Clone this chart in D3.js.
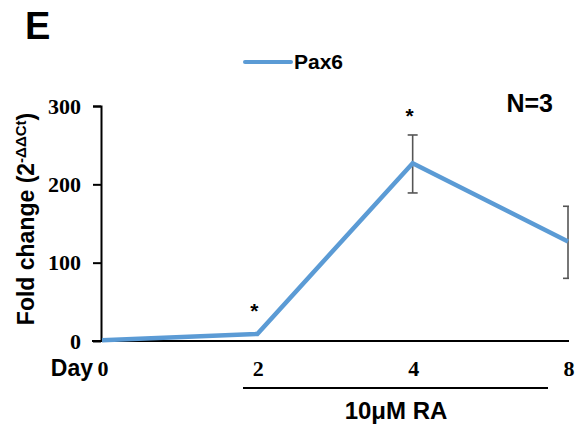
<!DOCTYPE html>
<html>
<head>
<meta charset="utf-8">
<script src="https://cdn.jsdelivr.net/npm/d3@7"></script>
<style>
  body { margin: 0; background: #fff; }
  svg { display: block; }
</style>
</head>
<body>
<svg width="582" height="427"></svg>
<script>
// data
const days = ["0", "2", "4", "8"];
const pax6 = [1, 9, 227, 127];
const errLow = [null, null, 189, 80];
const errHigh = [null, null, 263, 172];
const starred = [false, true, true, false];
const yTicks = [0, 100, 200, 300];

const svg = d3.select("svg");
const blue = "#5b9bd5";
const sans = "'Liberation Sans', Arial, sans-serif";
const serif = "'Liberation Serif', 'Times New Roman', serif";

const x = d3.scalePoint().domain(days).range([102, 568]);
const y = d3.scaleLinear().domain([0, 300]).range([341, 106]);

// panel letter
svg.append("text").attr("x", 25).attr("y", 39)
  .style("font", `bold 38px ${sans}`).text("E");

// legend
svg.append("line").attr("x1", 245).attr("x2", 291).attr("y1", 62).attr("y2", 62)
  .attr("stroke", blue).attr("stroke-width", 4).attr("stroke-linecap", "round");
svg.append("text").attr("x", 294).attr("y", 69)
  .style("font", `bold 21px ${sans}`).text("Pax6");

// y axis
const yAxis = d3.axisLeft(y).tickValues(yTicks).tickSize(8).tickPadding(12);
const gy = svg.append("g").attr("transform", "translate(101,0)").call(yAxis);
gy.select(".domain").attr("d", "M-8,106.5H0.5V341").attr("stroke", "#000").attr("stroke-width", 2);
gy.selectAll(".tick line").attr("stroke", "#000").attr("stroke-width", 2);
gy.selectAll(".tick text").style("font", `bold 22px ${serif}`).attr("fill", "#000");

// x axis line
svg.append("line").attr("x1", 92).attr("x2", 569).attr("y1", y(0)).attr("y2", y(0))
  .attr("stroke", "#000").attr("stroke-width", 2);
svg.selectAll(".xlab").data(days).join("text").attr("class", "xlab")
  .attr("x", d => x(d) + 1).attr("y", 376).attr("text-anchor", "middle")
  .style("font", `bold 22px ${serif}`).text(d => d);
svg.append("text").attr("x", 93).attr("y", 376).attr("text-anchor", "end")
  .style("font", `bold 23px ${sans}`).text("Day");

// treatment bar
svg.append("line").attr("x1", 243).attr("x2", 548).attr("y1", 388).attr("y2", 388)
  .attr("stroke", "#000").attr("stroke-width", 2);
svg.append("text").attr("x", 396).attr("y", 419).attr("text-anchor", "middle")
  .style("font", `bold 24px ${sans}`).text("10\u03bcM RA");

// y label
const yl = svg.append("text").attr("transform", "translate(34,219) rotate(-90)")
  .attr("text-anchor", "middle")
  .style("font", `bold 23px ${sans}`);
yl.append("tspan").text("Fold change (2");
yl.append("tspan").attr("dy", -8).style("font-size", "15px").text("-\u0394\u0394Ct");
yl.append("tspan").attr("dy", 8).text(")");

// error bars (clipped at plot edge)
svg.append("clipPath").attr("id", "clip").append("rect")
  .attr("x", 100).attr("y", 90).attr("width", 469).attr("height", 260);
const eb = svg.append("g").attr("clip-path", "url(#clip)")
  .attr("stroke", "#555").attr("stroke-width", 1.6).attr("fill", "none");
days.forEach((d, i) => {
  if (errLow[i] == null) return;
  const cx = x(d);
  eb.append("line").attr("x1", cx).attr("x2", cx).attr("y1", y(errLow[i])).attr("y2", y(errHigh[i]));
  [errLow[i], errHigh[i]].forEach(v => {
    eb.append("line").attr("x1", cx - 5).attr("x2", cx + 5).attr("y1", y(v)).attr("y2", y(v));
  });
});

// line
const line = d3.line().x((d, i) => x(days[i])).y(d => y(d));
svg.append("path").datum(pax6).attr("d", line)
  .attr("fill", "none").attr("stroke", blue).attr("stroke-width", 4.5)
  .attr("stroke-linejoin", "miter");

// significance stars
svg.selectAll(".star").data(days.filter((d, i) => starred[i])).join("text")
  .attr("class", "star").attr("x", d => x(d) - 3)
  .attr("y", d => d === "2" ? 318 : 123).attr("text-anchor", "middle")
  .style("font", `bold 21px ${sans}`).text("*");

svg.append("text").attr("x", 553).attr("y", 112).attr("text-anchor", "end")
  .style("font", `bold 25px ${sans}`).text("N=3");
</script>
</body>
</html>
